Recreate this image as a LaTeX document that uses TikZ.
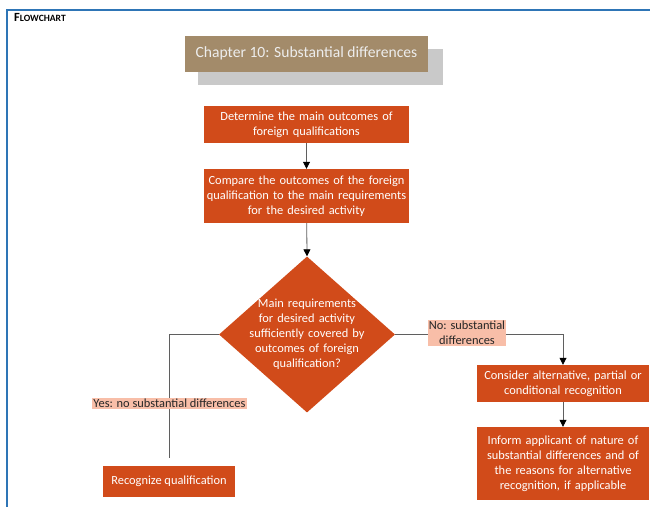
\documentclass[tikz,border=0pt]{standalone}
\usepackage{fontspec}
\setmainfont{Carlito}
\usetikzlibrary{shapes.geometric,arrows.meta}
\definecolor{boxorange}{RGB}{209,75,26}
\definecolor{titlebrown}{RGB}{163,139,106}
\definecolor{shadowgray}{RGB}{201,201,201}
\definecolor{frameblue}{RGB}{46,117,182}
\definecolor{labelpink}{RGB}{248,190,168}
\definecolor{linegray}{RGB}{95,95,95}
\tikzset{
  x=1pt,y=-1pt,
  stepbox/.style={draw=none,fill=boxorange,text=white,align=center,inner sep=0pt,
    font=\fontsize{12.4}{15}\selectfont},
  conn/.style={draw=linegray,line width=0.8pt},
  arr/.style={conn,-{Triangle[length=7pt,width=7pt,fill=black,color=black]}},
  lbl/.style={fill=labelpink,text=black!85,inner sep=1pt,align=center,
    font=\fontsize{12.4}{15}\selectfont},
}
\begin{document}
\begin{tikzpicture}
\useasboundingbox (0,0) rectangle (650,506);
\fill[white] (0,0) rectangle (650,506);
% frame
\draw[frameblue,line width=2pt] (7,520) -- (7,10) -- (660,10);
\node[anchor=base west,inner sep=0pt,font=\bfseries] (fc) at (14,21)
  {\fontsize{12.5}{14}\selectfont F\fontsize{9.6}{11}\selectfont LOWCHART};
% title
\fill[shadowgray] (198,49) rectangle (443,85);
\node[fill=titlebrown,text=white!93!black,minimum width=243pt,minimum height=36pt,inner sep=0pt,
  font=\fontsize{15.6}{18}\selectfont] (title) at (306.5,53.5) {Chapter 10: Substantial differences};
% boxes
\node[stepbox,minimum width=205pt,minimum height=37pt,text width=200pt] (b1) at (306.5,124.5)
  {Determine the main outcomes of\\ foreign qualifications};
\node[stepbox,minimum width=205pt,minimum height=54pt,text width=200pt] (b2) at (306.5,196)
  {Compare the outcomes of the foreign\\ qualification to the main requirements\\ for the desired activity};
\node[diamond,fill=boxorange,draw=none,inner sep=0pt,minimum width=176pt,minimum height=156pt] (d) at (307,334.5) {};
\node[stepbox,fill=none,text width=150pt] (dt) at (307,334) {Main requirements\\ for desired activity\\ sufficiently covered by\\ outcomes of foreign\\ qualification?};
\node[stepbox,minimum width=132pt,minimum height=31pt] (rec) at (169,481.5) {Recognize qualification};
\node[stepbox,minimum width=172pt,minimum height=37pt,text width=168pt] (cons) at (563,383.5)
  {Consider alternative, partial or\\ conditional recognition};
\node[stepbox,minimum width=172pt,minimum height=73pt,text width=168pt] (inf) at (563,463.5)
  {Inform applicant of nature of\\ substantial differences and of\\ the reasons for alternative\\ recognition, if applicable};
% connectors
\draw[arr] (b1) -- (b2);
\draw[arr] (b2) -- (d.north);
\coordinate (yesend) at (169,458);
\draw[conn] (d.west) -| (yesend);
\node[lbl] (yes) at (169.5,403.5) {Yes: no substantial differences};
\draw[arr] (d.east) -| (cons.north);
\node[lbl] (no) at (467,333) {No: substantial\\ differences};
\draw[arr] (cons) -- (inf);
\end{tikzpicture}
\end{document}
